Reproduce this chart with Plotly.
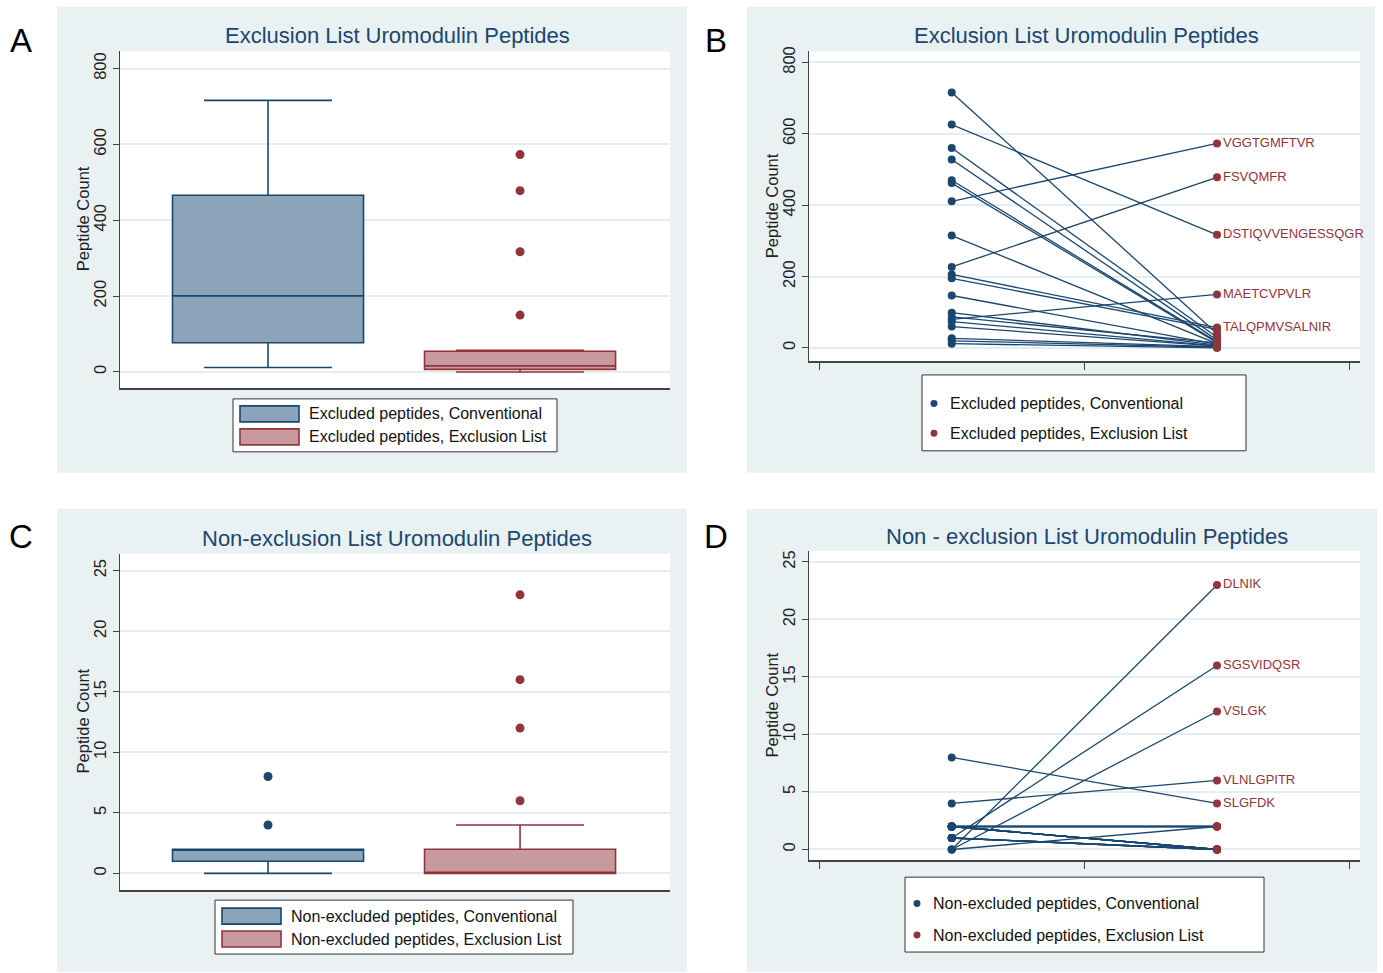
import plotly.graph_objects as go

W, H = 1383, 973

# ---------------- data ----------------
# Excluded peptides (panels A & B): paired counts per peptide
excl_conv = [716, 626, 560, 528, 470, 462, 411, 315, 227, 206, 195, 147, 99, 87, 80, 74, 60, 27, 20, 12]
excl_excl = [40, 317, 30, 22, 17, 15, 573, 12, 478, 57, 52, 10, 8, 14, 150, 6, 5, 4, 2, 0]
excl_labels = ["", "DSTIQVVENGESSQGR", "", "", "", "", "VGGTGMFTVR", "", "FSVQMFR",
               "TALQPMVSALNIR", "", "", "", "", "MAETCVPVLR", "", "", "", "", ""]

# Non-excluded peptides (panels C & D)
non_conv = [8, 4, 0, 1, 0, 0, 2, 2, 2, 2, 2, 2, 2, 2, 2, 2, 2, 1, 1, 1, 1, 1]
non_excl = [4, 6, 23, 16, 12, 2, 2, 2, 2, 2, 0, 0, 0, 0, 0, 0, 0, 0, 0, 0, 0, 0]
non_labels = ["SLGFDK", "VLNLGPITR", "DLNIK", "SGSVIDQSR", "VSLGK"] + [""] * 17

group_pos = [1, 2]
yticks_A = [0, 200, 400, 600, 800]
yticks_C = [0, 5, 10, 15, 20, 25]

titles = ["Exclusion List Uromodulin Peptides", "Exclusion List Uromodulin Peptides",
          "Non-exclusion List Uromodulin Peptides", "Non - exclusion List Uromodulin Peptides"]
legend_A = ["Excluded peptides, Conventional", "Excluded peptides, Exclusion List"]
legend_C = ["Non-excluded peptides, Conventional", "Non-excluded peptides, Exclusion List"]

# ---------------- style ----------------
NAVY = "#1a476f"
MAROON = "#90353b"
NAVY_FILL = "#8ca4b9"
MAROON_FILL = "#c89a9d"
PANEL_BG = "#eaf1f3"
GRID = "#e4edf0"
AXIS = "#444444"
FONT = "Liberation Sans, Arial, sans-serif"


def X(px):
    return px / W


def Y(py):
    py = py - 3.5 * (1 - py / H)
    return 1 - py / H


fig = go.Figure()

# ---------- Panel A / C: box plots ----------
def add_boxes(conv, excl, xa, ya, method):
    for vals, pos, lc, fc in [(conv, group_pos[0], NAVY, NAVY_FILL), (excl, group_pos[1], MAROON, MAROON_FILL)]:
        fig.add_trace(go.Box(
            y=vals, x0=pos, width=0.758, whiskerwidth=0.67,
            boxpoints="outliers", pointpos=0, jitter=0,
            quartilemethod=method,
            line=dict(color=lc, width=1.6), fillcolor=fc,
            marker=dict(color=lc, size=9),
            xaxis=xa, yaxis=ya, showlegend=False, hoverinfo="y"))


add_boxes(excl_conv, excl_excl, "x", "y", "exclusive")
add_boxes(non_conv, non_excl, "x3", "y3", "linear")


# ---------- Panel B / D: paired dot plots ----------
def add_pairs(conv, excl, labels, xa, ya):
    lx, ly = [], []
    for c, e in zip(conv, excl):
        lx += [group_pos[0], group_pos[1], None]
        ly += [c, e, None]
    fig.add_trace(go.Scatter(x=lx, y=ly, mode="lines", line=dict(color=NAVY, width=1.3),
                             xaxis=xa, yaxis=ya, showlegend=False, hoverinfo="skip"))
    fig.add_trace(go.Scatter(x=[group_pos[0]] * len(conv), y=conv, mode="markers",
                             marker=dict(color=NAVY, size=8),
                             xaxis=xa, yaxis=ya, showlegend=False))
    fig.add_trace(go.Scatter(x=[group_pos[1]] * len(excl), y=excl, mode="markers+text",
                             text=labels, textposition="middle right",
                             textfont=dict(color=MAROON, size=13, family=FONT),
                             marker=dict(color=MAROON, size=8),
                             xaxis=xa, yaxis=ya, showlegend=False, cliponaxis=False))


add_pairs(excl_conv, excl_excl, excl_labels, "x2", "y2")
add_pairs(non_conv, non_excl, non_labels, "x4", "y4")

# ---------- axes ----------
common_y = dict(showgrid=True, gridcolor=GRID, gridwidth=1.5, zeroline=False,
                showline=True, linecolor=AXIS, linewidth=1,
                ticks="outside", ticklen=6, tickcolor=AXIS, tickangle=-90,
                tickfont=dict(size=16.5, color="#222", family=FONT), fixedrange=True)
box_x = dict(showgrid=False, zeroline=False, showline=True, linecolor=AXIS, linewidth=2,
             showticklabels=False, ticks="", range=[0.4127, 2.595], fixedrange=True)
pair_x = dict(showgrid=False, zeroline=False, showline=True, linecolor=AXIS, linewidth=1.5,
              showticklabels=False, ticks="outside", ticklen=7, tickcolor=AXIS,
              tickvals=[0.5, 1.5, 2.5], range=[0.462, 2.539], fixedrange=True)

fig.update_layout(
    xaxis=dict(box_x, domain=[X(120), X(670)], anchor="y"),
    yaxis=dict(common_y, domain=[Y(387), Y(50)], anchor="x", range=[-42, 845], tickvals=yticks_A),
    xaxis2=dict(pair_x, domain=[X(809), X(1360)], anchor="y2"),
    yaxis2=dict(common_y, domain=[Y(360), Y(50)], anchor="x2", range=[-36.4, 830.8], tickvals=yticks_A),
    xaxis3=dict(box_x, domain=[X(120), X(670)], anchor="y3"),
    yaxis3=dict(common_y, domain=[Y(890), Y(553)], anchor="x3", range=[-1.38, 26.4], tickvals=yticks_C),
    xaxis4=dict(pair_x, domain=[X(809), X(1360)], anchor="y4"),
    yaxis4=dict(common_y, domain=[Y(860), Y(550)], anchor="x4", range=[-0.93, 25.98], tickvals=yticks_C),
)

# ---------- panel backgrounds ----------
shapes = []
panels = [(57, 5, 687, 472), (747, 5, 1375, 472), (57, 508, 687, 972), (747, 508, 1377, 972)]
plots = [(120, 50, 670, 387), (809, 50, 1360, 360), (120, 553, 670, 890), (809, 550, 1360, 860)]
for (x0, y0, x1, y1) in panels:
    shapes.append(dict(type="rect", xref="paper", yref="paper", x0=X(x0), x1=X(x1), y0=Y(y1), y1=Y(y0),
                       fillcolor=PANEL_BG, line=dict(width=0), layer="below"))
for (x0, y0, x1, y1) in plots:
    shapes.append(dict(type="rect", xref="paper", yref="paper", x0=X(x0), x1=X(x1), y0=Y(y1), y1=Y(y0),
                       fillcolor="white", line=dict(width=0), layer="below"))

annotations = []

# panel letters
for letter, (px, py) in zip("ABCD", [(21, 39), (716, 39), (21, 536), (716, 536)]):
    annotations.append(dict(text=letter, x=X(px), y=Y(py), xref="paper", yref="paper",
                            showarrow=False, xanchor="center", yanchor="middle",
                            font=dict(size=33, color="black", family=FONT)))

# titles
for t, (px, py) in zip(titles, [(397, 34), (1086, 34), (397, 538), (1087, 536)]):
    annotations.append(dict(text=t, x=X(px), y=Y(py), xref="paper", yref="paper",
                            showarrow=False, xanchor="center", yanchor="middle",
                            font=dict(size=22, color=NAVY, family=FONT)))

# y-axis titles
for (px, py) in [(83, 218), (772, 205), (83, 721), (772, 705)]:
    annotations.append(dict(text="Peptide Count", x=X(px), y=Y(py), xref="paper", yref="paper",
                            showarrow=False, xanchor="center", yanchor="middle", textangle=-90,
                            font=dict(size=16.5, color="#222", family=FONT)))


# legends for box panels (swatch rectangles)
def box_legend(bx0, by0, bx1, by1, sx0, sx1, rows, tx, texts):
    shapes.append(dict(type="rect", xref="paper", yref="paper", x0=X(bx0), x1=X(bx1), y0=Y(by1), y1=Y(by0),
                       fillcolor="white", line=dict(color="#333", width=1)))
    for (ry0, ry1), txt, lc, fc in zip(rows, texts, [NAVY, MAROON], [NAVY_FILL, MAROON_FILL]):
        shapes.append(dict(type="rect", xref="paper", yref="paper", x0=X(sx0), x1=X(sx1),
                           y0=Y(ry1), y1=Y(ry0), fillcolor=fc, line=dict(color=lc, width=1.6)))
        annotations.append(dict(text=txt, x=X(tx), y=Y((ry0 + ry1) / 2), xref="paper", yref="paper",
                                showarrow=False, xanchor="left", yanchor="middle",
                                font=dict(size=16, color="#111", family=FONT)))


box_legend(233, 398, 557, 451, 240, 299, [(405, 421), (428, 444)], 307, legend_A)
box_legend(215, 900, 573, 954, 222, 281, [(908, 924), (931, 947)], 289, legend_C)


# legends for dot panels
def dot_legend(bx0, by0, bx1, by1, mx, rows, tx, texts):
    shapes.append(dict(type="rect", xref="paper", yref="paper", x0=X(bx0), x1=X(bx1), y0=Y(by1), y1=Y(by0),
                       fillcolor="white", line=dict(color="#333", width=1)))
    for ry, txt, c in zip(rows, texts, [NAVY, MAROON]):
        shapes.append(dict(type="circle", xref="paper", yref="paper", x0=X(mx - 3.5), x1=X(mx + 3.5),
                           y0=Y(ry + 3.5), y1=Y(ry - 3.5), fillcolor=c, line=dict(width=0)))
        annotations.append(dict(text=txt, x=X(tx), y=Y(ry), xref="paper", yref="paper",
                                showarrow=False, xanchor="left", yanchor="middle",
                                font=dict(size=16, color="#111", family=FONT)))


dot_legend(922, 374, 1246, 450, 934, [402.5, 432.5], 948, legend_A)
dot_legend(905, 877, 1264, 952, 917, [903.5, 935], 931, legend_C)

fig.update_layout(
    width=W, height=H, autosize=False,
    margin=dict(l=0, r=0, t=0, b=0),
    paper_bgcolor="white", plot_bgcolor="rgba(0,0,0,0)",
    shapes=shapes, annotations=annotations,
    font=dict(family=FONT), showlegend=False,
)

fig.write_html(
    "out.html",
    config={"displayModeBar": False},
    post_script=("document.body.style.margin='0px';"
                 "var d=document.getElementById('{plot_id}');"
                 "d.style.position='absolute';d.style.left='0px';d.style.top='0px';"),
)
